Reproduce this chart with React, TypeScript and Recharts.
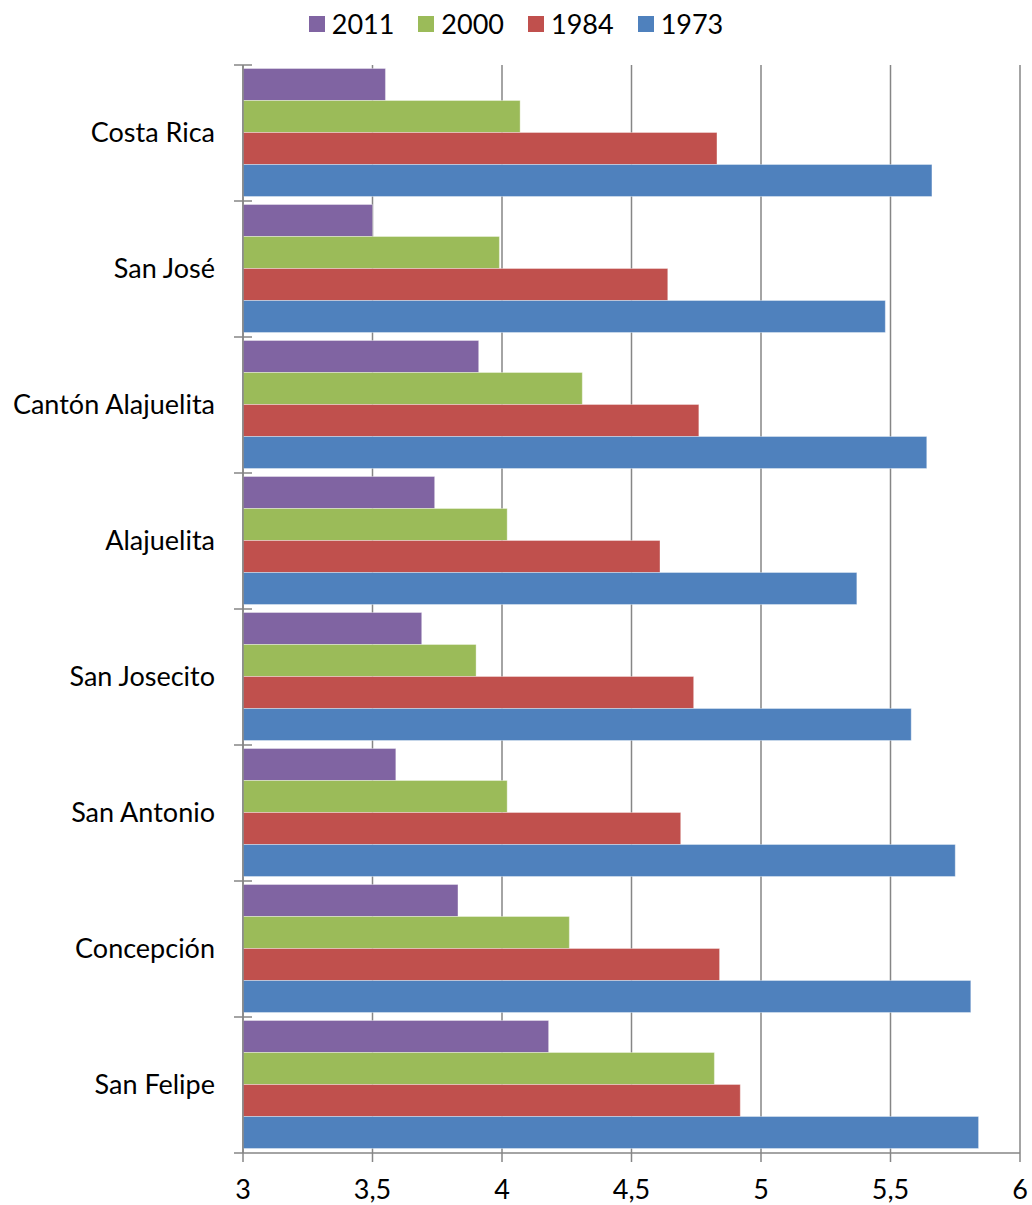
import React from 'react';
import { BarChart, Bar, XAxis, YAxis, CartesianGrid, Legend } from 'recharts';

// categories top to bottom
const places = ['Costa Rica', 'San José', 'Cantón Alajuelita', 'Alajuelita', 'San Josecito', 'San Antonio', 'Concepción', 'San Felipe'];

const v2011 = [3.55, 3.50, 3.91, 3.74, 3.69, 3.59, 3.83, 4.18];
const v2000 = [4.07, 3.99, 4.31, 4.02, 3.90, 4.02, 4.26, 4.82];
const v1984 = [4.83, 4.64, 4.76, 4.61, 4.74, 4.69, 4.84, 4.92];
const v1973 = [5.66, 5.48, 5.64, 5.37, 5.58, 5.75, 5.81, 5.84];

const xTicks = [3, 3.5, 4, 4.5, 5, 5.5, 6];

const series = [
  { key: 'y2011', name: '2011', color: '#8064A2', values: v2011 },
  { key: 'y2000', name: '2000', color: '#9BBB59', values: v2000 },
  { key: 'y1984', name: '1984', color: '#C0504D', values: v1984 },
  { key: 'y1973', name: '1973', color: '#4F81BD', values: v1973 },
];

const data = places.map((name, i) => {
  const row: any = { name };
  series.forEach((s) => { row[s.key] = s.values[i]; });
  return row;
});

const FONT = 'Lato, sans-serif';
const AXIS = '#868686';
const W = 1032;
const H = 1205;
const TOP = 65;
const BOTTOM_AXIS = 52;
const BAND = (H - TOP - BOTTOM_AXIS) / places.length;

// label at the band centre, small tick marks at the band edges
function PlaceTick(props: any) {
  const { x, y, payload, index } = props;
  const axisX = x + 28;
  return (
    <g>
      <line x1={axisX - 9} x2={axisX + 9} y1={y - BAND / 2} y2={y - BAND / 2} stroke={AXIS} strokeWidth={1.5} />
      {index === places.length - 1 && (
        <line x1={axisX - 9} x2={axisX} y1={y + BAND / 2} y2={y + BAND / 2} stroke={AXIS} strokeWidth={1.5} />
      )}
      <text x={x} y={y} dy={9} textAnchor="end" fill="#000" fontSize={27} fontFamily={FONT}>
        {payload.value}
      </text>
    </g>
  );
}

function LegendBox() {
  return (
    <div style={{ display: 'flex', justifyContent: 'center', alignItems: 'center', gap: 24, fontFamily: FONT, fontSize: 27, color: '#000' }}>
      {series.map((s) => (
        <div key={s.key} style={{ display: 'flex', alignItems: 'center' }}>
          <span style={{ width: 16, height: 16, background: s.color, display: 'inline-block', marginRight: 7 }} />
          <span>{s.name}</span>
        </div>
      ))}
    </div>
  );
}

export default function App() {
  return (
    <div style={{ position: 'absolute', left: 0, top: 0, background: '#fff' }}>
      <BarChart
        width={W}
        height={H}
        data={data}
        layout="vertical"
        margin={{ top: TOP, right: 12, bottom: 0, left: 0 }}
        barCategoryGap={3.5}
        barGap={0}
      >
        <CartesianGrid horizontal={false} stroke={AXIS} strokeWidth={1.5} />
        <XAxis
          type="number"
          domain={[3, 6]}
          ticks={xTicks}
          allowDataOverflow
          height={BOTTOM_AXIS}
          tickSize={9}
          tickMargin={18}
          stroke={AXIS}
          strokeWidth={1.5}
          tickFormatter={(v: number) => String(v).replace('.', ',')}
          tick={{ fill: '#000', fontSize: 27, fontFamily: FONT }}
        />
        <YAxis
          type="category"
          dataKey="name"
          width={243}
          tickSize={8}
          tickMargin={20}
          tickLine={false}
          stroke={AXIS}
          strokeWidth={1.5}
          tick={<PlaceTick />}
        />
        <Legend verticalAlign="middle" align="center" wrapperStyle={{ top: 7, left: 0, width: W }} content={<LegendBox />} />
        {series.map((s) => (
          <Bar
            key={s.key}
            dataKey={s.key}
            name={s.name}
            fill={s.color}
            stroke="rgba(255,255,255,0.35)"
            strokeWidth={1}
            isAnimationActive={false}
          />
        ))}
      </BarChart>
    </div>
  );
}
